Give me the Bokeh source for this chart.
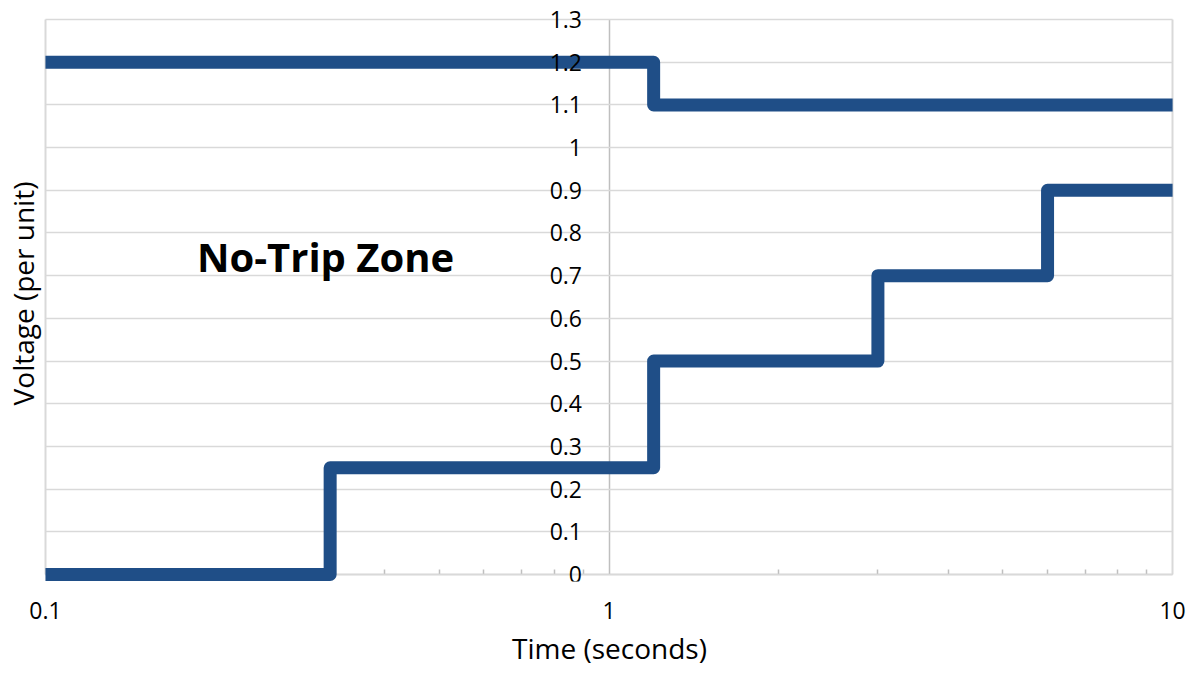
from bokeh.plotting import figure
from bokeh.models import FixedTicker, CustomJSTickFormatter, LinearAxis, LogAxis
from bokeh.core.properties import value
from bokeh.embed import file_html
from bokeh.resources import INLINE

# ---- data ----
upper_time = [0.1, 1.2, 10]
upper_volt = [1.2, 1.1, 1.1]
lower_time = [0.1, 0.32, 1.2, 3, 6, 10]
lower_volt = [0, 0.25, 0.5, 0.7, 0.9, 0.9]

x_ticks = [0.1, 1, 10]
x_tick_labels = ["0.1", "1", "10"]
x_minor_ticks = [0.2, 0.3, 0.4, 0.5, 0.6, 0.7, 0.8, 0.9, 2, 3, 4, 5, 6, 7, 8, 9]
y_ticks = [0, 0.1, 0.2, 0.3, 0.4, 0.5, 0.6, 0.7, 0.8, 0.9, 1, 1.1, 1.2, 1.3]
y_tick_labels = ["0", "0.1", "0.2", "0.3", "0.4", "0.5", "0.6", "0.7", "0.8", "0.9",
                 "1", "1.1", "1.2", "1.3"]
zone_label = "No-Trip Zone"
x_title = "Time (seconds)"
y_title = "Voltage (per unit)"

FONT = "Open Sans"
LINE_COLOR = "#1F4E87"
GRID_COLOR = "#D9D9D9"
AXIS_COLOR = "#BFBFBF"

p = figure(width=1190, height=669, x_axis_type="log",
           x_range=(0.0992, 10.12), y_range=(-0.0165, 1.333),
           output_backend="svg", toolbar_location=None,
           min_border_left=43, min_border_right=15, min_border_top=5, min_border_bottom=87,
           background_fill_color="white", border_fill_color="white")
p.outline_line_color = None

fmt_js = ("const i = tvals.findIndex(t => Math.abs(t - tick) < 1e-9); "
          "return i >= 0 ? tlabels[i] : '';")

# x axis labels + title (below the frame)
xa = p.xaxis[0]
xa.ticker = FixedTicker(ticks=x_ticks)
xa.formatter = CustomJSTickFormatter(args=dict(tvals=x_ticks, tlabels=x_tick_labels), code=fmt_js)
xa.axis_line_color = None
xa.major_tick_in = 0
xa.major_tick_out = 0
xa.minor_tick_in = 0
xa.minor_tick_out = 0
xa.major_label_standoff = 20
xa.major_label_text_font = FONT
xa.major_label_text_font_size = "23px"
xa.major_label_text_color = "black"
xa.axis_label = x_title
xa.axis_label_standoff = 7
xa.axis_label_text_font = FONT
xa.axis_label_text_font_size = "28px"
xa.axis_label_text_font_style = "normal"
xa.axis_label_text_color = "black"

# x axis line with minor ticks placed at y = 0 (drawn beneath the data lines)
xline = LogAxis(ticker=FixedTicker(ticks=x_ticks, minor_ticks=x_minor_ticks),
                formatter=CustomJSTickFormatter(code="return '';"),
                fixed_location=0, bounds=(0.1, 10), level="underlay",
                axis_line_color=AXIS_COLOR, axis_line_width=1.5,
                major_tick_in=0, major_tick_out=0,
                minor_tick_in=5, minor_tick_out=0,
                minor_tick_line_color=AXIS_COLOR, minor_tick_line_width=1.5,
                major_label_text_font_size="1px")
p.add_layout(xline, "below")

# y axis tick labels placed at x = 1
ya = p.yaxis[0]
ya.ticker = FixedTicker(ticks=y_ticks)
ya.formatter = CustomJSTickFormatter(args=dict(tvals=y_ticks, tlabels=y_tick_labels), code=fmt_js)
ya.fixed_location = 1
ya.bounds = (0, 1.3)
ya.axis_line_color = None
ya.major_tick_in = 0
ya.major_tick_out = 0
ya.minor_tick_in = 0
ya.minor_tick_out = 0
ya.major_label_standoff = 27
ya.major_label_text_font = FONT
ya.major_label_text_font_size = "23px"
ya.major_label_text_color = "black"

# y axis line at x = 1 (beneath the data lines)
yline = LinearAxis(ticker=FixedTicker(ticks=[]), fixed_location=1, bounds=(0, 1.3),
                   level="underlay", axis_line_color=AXIS_COLOR, axis_line_width=1.5,
                   major_tick_in=0, major_tick_out=0, minor_tick_in=0, minor_tick_out=0,
                   major_label_text_font_size="1px")
p.add_layout(yline, "left")

# outer axis carrying only the y title
yt = LinearAxis(ticker=FixedTicker(ticks=[]), axis_line_color=None,
                major_tick_in=0, major_tick_out=0, minor_tick_in=0, minor_tick_out=0,
                axis_label=y_title, axis_label_standoff=2,
                axis_label_text_font=FONT, axis_label_text_font_size="28px",
                axis_label_text_font_style="normal", axis_label_text_color="black")
p.add_layout(yt, "left")

# grids (horizontal every 0.1; vertical frame edges at 0.1 and 10)
p.ygrid.ticker = FixedTicker(ticks=y_ticks)
p.ygrid.grid_line_color = GRID_COLOR
p.ygrid.grid_line_width = 1.5
p.ygrid[0].cross_bounds = (x_ticks[0], x_ticks[-1])
p.xgrid.ticker = FixedTicker(ticks=[x_ticks[0], x_ticks[-1]])
p.xgrid.grid_line_color = GRID_COLOR
p.xgrid.grid_line_width = 2
p.xgrid[0].cross_bounds = (y_ticks[0], y_ticks[-1])

# step lines
p.step(upper_time, upper_volt, mode="after", line_color=LINE_COLOR, line_width=13,
       line_join="round", line_cap="butt")
p.step(lower_time, lower_volt, mode="after", line_color=LINE_COLOR, line_width=13,
       line_join="round", line_cap="butt")

p.text(x=[0.314], y=[0.745], text=[zone_label], text_font=value(FONT),
       text_font_style="bold", text_font_size="40px", text_color="black",
       text_align="center", text_baseline="middle")

open("out.html", "w").write(file_html(p, INLINE))
